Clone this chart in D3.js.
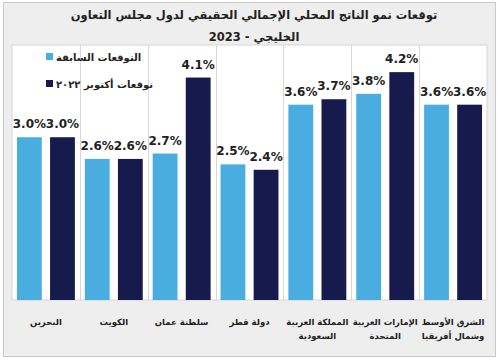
<!DOCTYPE html>
<html>
<head>
<meta charset="utf-8">
<script src="https://cdn.jsdelivr.net/npm/d3@7"></script>
<style>
  body { margin: 0; background: #fff; }
  text { font-family: "DejaVu Sans", "Noto Sans", sans-serif; }
</style>
</head>
<body>
<div id="chart"></div>
<script>
// categories, in Arabic reading order (right to left)
var categories = [
  ["الشرق الأوسط", "وشمال أفريقيا"],
  ["الإمارات العربية", "المتحدة"],
  ["المملكة العربية", "السعودية"],
  ["دولة قطر"],
  ["سلطنة عمان"],
  ["الكويت"],
  ["البحرين"]
];
var seriesNames = ["التوقعات السابقة", "توقعات أكتوبر ٢٠٢٢"];
var previous = [3.6, 3.8, 3.6, 2.5, 2.7, 2.6, 3.0];
var october = [3.6, 4.2, 3.7, 2.4, 4.1, 2.6, 3.0];
var colors = ["#4aade0", "#161a4c"];

var W = 500, H = 363;
var plot = { left: 12, right: 487, top: 45, bottom: 300 };

var svg = d3.select("#chart").append("svg")
  .attr("width", W).attr("height", H);

// background + frame
svg.append("rect").attr("x", 0).attr("y", 0).attr("width", W).attr("height", H)
  .attr("fill", "#ffffff");
svg.append("rect").attr("x", 3.5).attr("y", 2.5).attr("width", 492).attr("height", 354)
  .attr("fill", "#eeeeee").attr("stroke", "#c8c8c8");
svg.append("rect")
  .attr("x", plot.left).attr("y", plot.top)
  .attr("width", plot.right - plot.left).attr("height", plot.bottom - plot.top)
  .attr("fill", "#ffffff").attr("stroke", "#d6d6d6");

var idx = d3.range(categories.length);
// reversed range: first category sits on the right
var x = d3.scaleBand().domain(idx).range([plot.right, plot.left]);
var xs = d3.scaleBand().domain([0, 1]).range([0, x.bandwidth()]).paddingInner(0.25).paddingOuter(0.15);
var y = d3.scaleLinear().domain([0, 4.7]).range([plot.bottom, plot.top]);

// vertical separators
svg.selectAll("line.sep")
  .data(idx.slice(1))
  .enter().append("line")
  .attr("class", "sep")
  .attr("x1", function(i) { return Math.round(x(i) + x.bandwidth()) + 0.5; })
  .attr("x2", function(i) { return Math.round(x(i) + x.bandwidth()) + 0.5; })
  .attr("y1", plot.top).attr("y2", plot.bottom)
  .attr("stroke", "#d6d6d6");

var series = [previous, october];
series.forEach(function(vals, s) {
  var g = svg.append("g");
  g.selectAll("rect")
    .data(vals)
    .enter().append("rect")
    .attr("x", function(d, i) { return x(i) + xs(s); })
    .attr("width", xs.bandwidth())
    .attr("y", function(d) { return y(d); })
    .attr("height", function(d) { return y(0) - y(d); })
    .attr("fill", colors[s]);
  g.selectAll("text")
    .data(vals)
    .enter().append("text")
    .attr("x", function(d, i) { return x(i) + xs(s) + xs.bandwidth() / 2; })
    .attr("y", function(d) { return y(d) - 9; })
    .attr("text-anchor", "middle")
    .attr("font-size", 12)
    .attr("font-weight", "bold")
    .attr("fill", "#222")
    .text(function(d) { return d.toFixed(1) + "%"; });
});

// category labels
var lab = svg.append("g");
categories.forEach(function(lines, i) {
  lines.forEach(function(t, k) {
    lab.append("text")
      .attr("x", x(i) + x.bandwidth() / 2)
      .attr("y", 325 + k * 14)
      .attr("text-anchor", "middle")
      .attr("direction", "rtl")
      .attr("font-size", 8.5)
      .attr("font-weight", "bold")
      .attr("fill", "#222")
      .text(t);
  });
});

// title
[
  "توقعات نمو الناتج المحلي الإجمالي الحقيقي لدول مجلس التعاون",
  "الخليجي - 2023"
].forEach(function(t, k) {
  svg.append("text").attr("x", 254).attr("y", 19 + k * 22)
    .attr("text-anchor", "middle").attr("direction", "rtl")
    .attr("font-size", 11.5).attr("font-weight", "bold").attr("fill", "#222")
    .text(t);
});

// legend
var legend = svg.append("g");
seriesNames.forEach(function(name, s) {
  var ly = 61 + s * 27;
  legend.append("rect").attr("x", 46).attr("y", ly - 8)
    .attr("width", 7).attr("height", 7).attr("fill", colors[s]);
  legend.append("text").attr("x", 56).attr("y", ly)
    .attr("direction", "rtl")
    .attr("text-anchor", "end")
    .attr("font-size", 10).attr("font-weight", "bold").attr("fill", "#222")
    .text(name);
});
</script>
</body>
</html>
